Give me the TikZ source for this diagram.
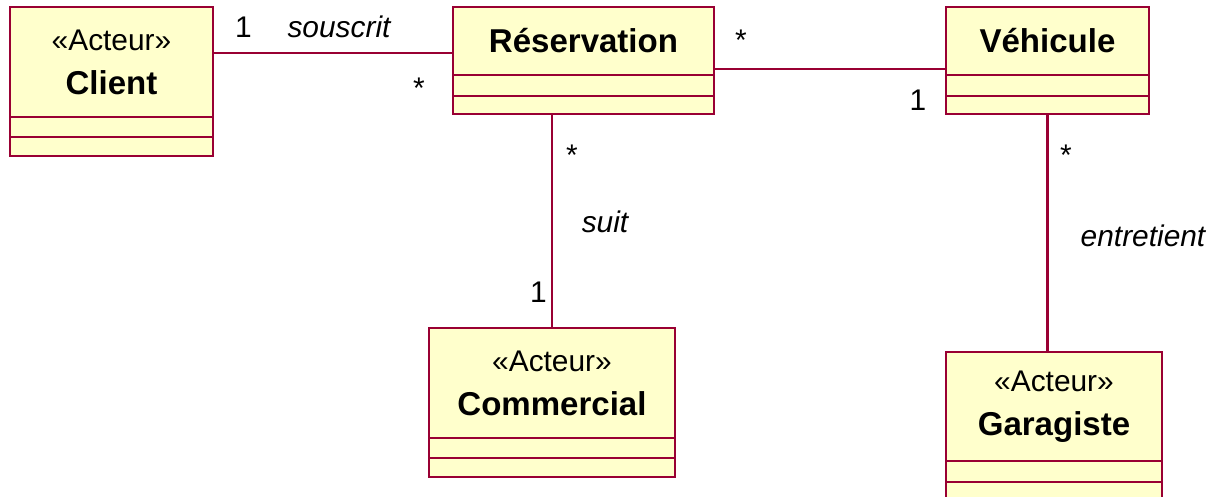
\documentclass[tikz,border=0pt]{standalone}
\usepackage{fontspec}
\setmainfont{Liberation Sans}
\usepackage{tikz}
\usetikzlibrary{positioning, calc}
\definecolor{umlred}{RGB}{153,0,51}
\definecolor{umlfill}{RGB}{255,255,204}
\newcommand{\cname}{\fontsize{18.8pt}{25pt}\selectfont\bfseries}

\begin{document}
\begin{tikzpicture}[
    font=\fontsize{17pt}{25pt}\selectfont,
    cls/.style={rectangle, draw=umlred, fill=umlfill, line width=0.75pt,
        inner sep=0pt, outer sep=0pt, anchor=north west, align=center},
    part/.style={rectangle, draw=umlred, fill=umlfill, line width=0.75pt,
        inner sep=0pt, outer sep=0pt},
    assoc/.style={draw=umlred, line width=1.4pt},
    mult/.style={anchor=base, inner sep=0pt},
    role/.style={anchor=base, inner sep=0pt, font=\fontsize{17pt}{25pt}\selectfont\itshape}
]
\clip (0,0) rectangle (24.56,-9.94);

% ===== classes (name + two empty compartments) =====
\node[cls, minimum width=4.06cm, minimum height=2.2cm] (client) at (0.2,-0.14)
    {«Acteur»\\{\cname Client}};
\node[part, minimum width=4.06cm, minimum height=0.4cm, below=0pt of client] (client1) {};
\node[part, minimum width=4.06cm, minimum height=0.38cm, below=0pt of client1] (client2) {};

\node[cls, minimum width=5.22cm, minimum height=1.36cm] (resa) at (9.06,-0.14)
    {\cname Réservation};
\node[part, minimum width=5.22cm, minimum height=0.42cm, below=0pt of resa] (resa1) {};
\node[part, minimum width=5.22cm, minimum height=0.36cm, below=0pt of resa1] (resa2) {};

\node[cls, minimum width=4.06cm, minimum height=1.36cm] (vehi) at (18.92,-0.14)
    {\cname Véhicule};
\node[part, minimum width=4.06cm, minimum height=0.42cm, below=0pt of vehi] (vehi1) {};
\node[part, minimum width=4.06cm, minimum height=0.36cm, below=0pt of vehi1] (vehi2) {};

\node[cls, minimum width=4.92cm, minimum height=2.2cm] (comm) at (8.58,-6.56)
    {«Acteur»\\{\cname Commercial}};
\node[part, minimum width=4.92cm, minimum height=0.4cm, below=0pt of comm] (comm1) {};
\node[part, minimum width=4.92cm, minimum height=0.38cm, below=0pt of comm1] (comm2) {};

\node[cls, minimum width=4.32cm, minimum height=2.18cm] (gara) at (18.92,-7.04)
    {«Acteur»\\{\cname Garagiste}};
\node[part, minimum width=4.32cm, minimum height=0.42cm, below=0pt of gara] (gara1) {};
\node[part, minimum width=4.32cm, minimum height=0.4cm, below=0pt of gara1] (gara2) {};

% ===== associations =====
\draw[assoc] ([yshift=0.18cm]client.east) -- ([yshift=0.18cm]client.east -| resa.west);
\draw[assoc] ([yshift=0.12cm]resa.south east) -- ([yshift=0.12cm]vehi.south west);
\draw[assoc] (comm.north |- resa2.south) -- (comm.north);
\draw[assoc] (vehi2.south) -- (vehi2.south |- gara.north);

% ===== multiplicities and roles =====
\node[mult] (m1) at (4.87,-0.76) {1};
\node[role] (r1) at (6.78,-0.76) {souscrit};
\node[mult] (m2) at (8.38,-1.98) {*};
\node[mult] (m3) at (14.82,-1.02) {*};
\node[mult] (m4) at (18.36,-2.22) {1};
\node[mult] (m5) at (11.44,-3.32) {*};
\node[role] (r2) at (12.1,-4.66) {suit};
\node[mult] (m6) at (10.77,-6.06) {1};
\node[mult] (m7) at (21.32,-3.32) {*};
\node[role] (r3) at (22.86,-4.94) {entretient};
\end{tikzpicture}
\end{document}
